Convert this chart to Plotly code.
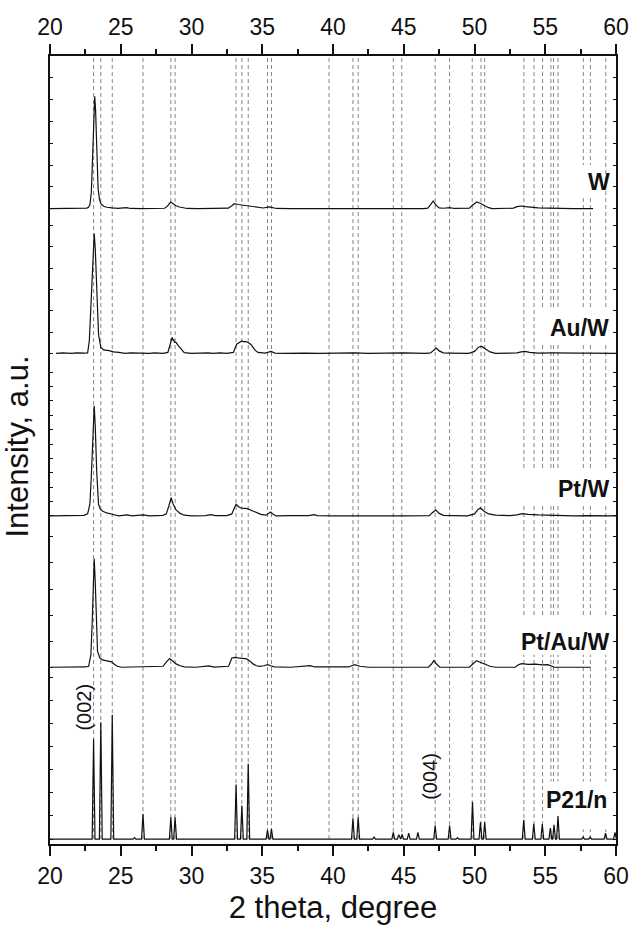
import plotly.graph_objects as go

# ---------------- measured patterns (background-subtracted intensity, a.u.) ----------------
w_tt = [20.0, 21.0, 22.0, 22.43, 22.60, 22.72, 22.82, 22.92, 23.02, 23.10, 23.16, 23.22, 23.30,
        23.40, 23.50, 23.60, 23.80, 24.00, 24.40, 24.80, 25.40, 25.70, 26.50, 27.50, 28.10, 28.30,
        28.52, 28.70, 28.90, 29.15, 29.70, 30.50, 31.40, 31.80, 32.60, 32.85, 33.03, 33.30, 33.70,
        34.12, 34.60, 35.05, 35.50, 35.80, 36.00, 37.00, 38.40, 39.00, 40.00, 41.60, 42.50, 44.00,
        44.80, 45.50, 46.40, 46.70, 46.90, 47.08, 47.25, 47.50, 47.80, 48.24, 48.60, 49.40, 49.63,
        49.90, 50.16, 50.40, 50.70, 51.00, 51.25, 52.00, 52.75, 53.00, 53.29, 53.60, 54.00, 54.50,
        55.20, 56.00, 57.00, 58.38]
w_int = [0, 0, 0.3, 0.4, 0.6, 1.5, 4, 16, 62, 105, 113.3, 100, 55,
         20, 9, 5, 2.5, 1.4, 0.7, 0.2, 1, 0.2, 0, 0, 0.4, 2.5,
         6.7, 5, 3, 1.7, 0.2, 0, 0.5, 0.2, 0.5, 3, 5, 4.2, 3.5,
         2.7, 1.5, 0.7, 1.7, 0.7, 0.2, 0, 0.4, 0, 0, 0.4, 0, 0,
         0.4, 0, 0, 0.5, 4, 7.7, 4, 0.7, 0.4, 1, 0.2, 0, 0.5,
         4, 6.7, 5.5, 3, 1, 0, 0, 0.5, 2, 2.7, 2, 1.2, 0.8,
         0.6, 0.2, 0, 0]

auw_tt = [20.42, 20.9, 21.5, 21.9, 22.4, 22.66, 22.78, 22.90, 23.00, 23.08, 23.125, 23.20, 23.30,
          23.43, 23.59, 23.80, 24.17, 24.50, 24.86, 25.30, 25.7, 26.0, 26.6, 27.0, 27.4, 28.00,
          28.33, 28.50, 28.63, 28.70, 28.75, 28.80, 28.91, 29.05, 29.26, 29.49, 30.0, 30.6, 31.2,
          31.5, 32.0, 32.5, 32.96, 33.19, 33.40, 33.55, 33.66, 33.80, 34.00, 34.20, 34.35, 34.50,
          34.70, 35.20, 35.62, 35.90, 36.5, 37.2, 38.0, 39.0, 40.2, 41.5, 42.5, 43.4, 44.0, 45.0,
          46.5, 46.9, 47.10, 47.31, 47.50, 47.80, 48.2, 49.0, 49.6, 50.00, 50.30, 50.51, 50.80,
          51.10, 51.48, 52.0, 52.5, 53.0, 53.3, 53.56, 53.9, 54.5, 55.5, 56.5, 57.2, 58.0, 59.0, 60.0]
auw_int = [0, 0.4, 0, 0.5, 0.3, 0.5, 13, 50, 90, 115, 121, 105, 60,
           19.3, 6, 3.5, 2.7, 1.5, 1, 0, 0.5, 0.3, 0.5, 0, 0.4, 0,
           1, 10, 16, 13, 14, 11, 11, 8, 4.3, 0.7, 0, 0.4, 0.5,
           0, 0.4, 0, 1, 9.3, 11, 12.5, 11.7, 12, 11, 9, 6, 3,
           1, 0.3, 2, 0.3, 0, 0.4, 0.3, 0, 0.4, 0.5, 0, 0.3, 0, 0.4,
           0, 0.5, 3, 5.3, 2.5, 0.5, 0.3, 0, 0, 2, 6.5, 7, 4,
           1.5, 0, 0.3, 0, 0.5, 1.5, 2, 1, 0.3, 0.5, 0, 0.3, 0.3, 0, 0]

ptw_tt = [20.0, 21.5, 22.4, 22.66, 22.82, 22.92, 23.02, 23.10, 23.125, 23.20, 23.30, 23.43, 23.55,
          23.70, 24.00, 24.40, 24.86, 25.44, 25.80, 26.60, 27.00, 28.00, 28.22, 28.40, 28.56, 28.70,
          28.91, 29.20, 29.49, 30.00, 31.00, 31.34, 31.70, 32.50, 32.85, 33.00, 33.15, 33.35, 33.54,
          33.75, 33.94, 34.25, 34.58, 34.90, 35.28, 35.45, 35.58, 35.75, 35.97, 37.00, 38.30, 38.63,
          38.90, 40.00, 41.50, 43.00, 45.00, 46.80, 47.00, 47.27, 47.50, 47.80, 48.50, 49.50, 50.00,
          50.25, 50.42, 50.70, 51.00, 51.48, 52.50, 53.00, 53.38, 53.80, 54.50, 55.19, 56.00, 57.00,
          58.00, 59.00, 60.00]
ptw_int = [0, 0, 0.5, 2, 12, 40, 80, 105, 111, 90, 45, 11.7, 7,
           5, 3, 1.7, 0, 1, 0, 1, 0, 0.5, 2, 10, 18.3, 12,
           6, 2.5, 0.7, 0, 0.3, 1.3, 0.3, 0.3, 2, 7, 11.7, 9, 7.7,
           7.5, 7.3, 5.5, 3.3, 1.5, 0.7, 2.5, 4, 2, 0, 0.3, 0.3, 1.3,
           0.3, 0, 0.3, 0, 0, 0.3, 3, 6, 2.5, 0.5, 0.3, 0, 2,
           6.5, 8, 4.5, 2, 0.7, 0.3, 1, 2.3, 1.5, 1, 0.7, 0.3, 0,
           0.3, 0, 0]

ptauw_tt = [20.05, 21.5, 22.5, 22.73, 22.89, 22.98, 23.06, 23.125, 23.20, 23.28, 23.36, 23.52, 23.70,
            23.94, 24.35, 24.55, 24.75, 25.09, 26.00, 27.00, 27.99, 28.20, 28.45, 28.65, 28.91, 29.20,
            29.49, 30.30, 31.23, 31.60, 32.62, 32.85, 33.08, 33.30, 33.54, 33.89, 34.10, 34.35, 34.60,
            34.81, 35.10, 35.39, 35.60, 35.85, 37.00, 38.40, 38.70, 40.00, 41.10, 41.53, 41.90, 42.50,
            44.00, 46.74, 46.95, 47.13, 47.30, 47.55, 49.00, 49.63, 49.90, 50.14, 50.40, 50.78, 51.10,
            51.48, 52.50, 52.87, 53.10, 53.33, 53.80, 54.30, 54.80, 55.19, 55.65, 56.50, 57.50, 58.19]
ptauw_int = [0, 0, 0.3, 1, 12.7, 45, 90, 109.4, 85, 40, 16, 9.4, 7.5,
             6.7, 5.4, 3, 1, 0, 0.3, 0, 1, 5, 8.7, 6.5, 3.4, 1.5,
             0.4, 0, 1.4, 0.2, 1, 9.4, 10, 9.5, 9, 8.4, 6.5, 3.4, 1.5,
             1, 1.5, 2.7, 1.5, 0.4, 0, 1.7, 0.3, 0, 0.3, 2.7, 1, 0,
             0, 0, 3, 6.7, 3.5, 0, 0, 0, 3.5, 6.7, 5, 2.7, 1,
             0, 0, 0, 2.5, 3.7, 3, 3.2, 2.5, 2.7, 0, 0, 0, 0]

# ---------------- reference pattern, monoclinic WO3 (P21/n) ----------------
ref_pos = [23.08, 23.59, 24.40, 25.97, 26.57, 28.54, 28.84, 33.15, 33.56, 34.01, 35.37, 35.65,
           41.41, 41.78, 42.90, 44.26, 44.65, 44.88, 45.35, 46.00, 47.22, 48.24, 48.80, 49.86,
           50.42, 50.72, 53.48, 54.19, 54.79, 55.36, 55.62, 55.90, 57.68, 58.17, 59.26, 59.93]
ref_int = [101, 117.7, 125.3, 1.5, 25.3, 22, 22, 55, 33.7, 76, 9.3, 10.3,
           21, 22, 2, 6.7, 4.3, 4.7, 6, 6.7, 13.7, 13.7, 1.2, 37.3,
           17, 17, 19.3, 15.3, 15, 11, 14.3, 23.3, 2, 2, 6, 6.7]

# dashed guides at the reflection positions
guide_pos = [23.08, 23.59, 24.40, 26.57, 28.54, 28.84, 33.15, 33.56, 34.01, 35.37, 35.65, 39.72,
             41.41, 41.78, 44.26, 44.86, 47.22, 48.24, 49.84, 50.46, 50.72, 53.49, 54.21, 54.81,
             55.40, 55.58, 55.90, 57.69, 58.19, 59.28]

tick_vals = [20, 25, 30, 35, 40, 45, 50, 55, 60]

# stick profile of the reference reflections
HALF_W = 0.1
ref_x, ref_y = [20.0], [0.0]
for p, h in zip(ref_pos, ref_int):
    ref_x += [p - HALF_W, p, p + HALF_W]
    ref_y += [0.0, h, 0.0]
ref_x.append(60.0)
ref_y.append(0.0)

FONT = "Liberation Sans, Arial, Helvetica, sans-serif"
INK = "#111111"

# panels from bottom to top: (axis id, x, y, domain, range, tick step)
panels = [
    ("y",  ref_x,    ref_y,     [0.000, 0.2151], [-5, 166],    23.33),
    ("y2", ptauw_tt, ptauw_int, [0.2151, 0.4038], [-7.3, 142.7], 26.3),
    ("y3", ptw_tt,   ptw_int,   [0.4038, 0.6113], [-10, 155],   14.5),
    ("y4", auw_tt,   auw_int,   [0.6113, 0.7962], [-9, 138],    21.5),
    ("y5", w_tt,     w_int,     [0.7962, 1.000], [-8, 154],     22.0),
]

fig = go.Figure()
layout_axes = {}
for ax_id, xs, ys, dom, rng, step in panels:
    fig.add_trace(go.Scatter(x=xs, y=ys, mode="lines", xaxis="x", yaxis=ax_id,
                             line=dict(color=INK, width=1.2), showlegend=False,
                             hoverinfo="skip"))
    key = "yaxis" if ax_id == "y" else "yaxis" + ax_id[1:]
    layout_axes[key] = dict(domain=dom, range=rng, tick0=0, dtick=step,
                            showticklabels=False, ticks="inside", ticklen=3,
                            tickwidth=1, tickcolor=INK, showline=True, linewidth=2,
                            linecolor=INK, mirror="ticks", showgrid=False,
                            zeroline=False, anchor="x")

# carrier for the top axis
fig.add_trace(go.Scatter(x=[20, 60], y=[0, 0], xaxis="x2", yaxis="y5", mode="lines",
                         line=dict(width=0), opacity=0, showlegend=False, hoverinfo="skip"))

x_common = dict(range=[20, 60], tickvals=tick_vals, ticks="outside", ticklen=10,
                tickwidth=1.5, tickcolor=INK, showline=True, linewidth=2, linecolor=INK,
                showgrid=False, zeroline=False,
                tickfont=dict(family=FONT, size=23, color=INK),
                minor=dict(dtick=2.5, tick0=20, ticks="outside", ticklen=5,
                           tickwidth=1.5, tickcolor=INK))

fig.update_layout(
    width=641, height=931,
    margin=dict(l=50, r=15, t=56, b=80),
    paper_bgcolor="white", plot_bgcolor="rgba(0,0,0,0)",
    xaxis=dict(x_common, anchor="y", side="bottom",
               title=dict(text="2 theta, degree", standoff=9,
                          font=dict(family=FONT, size=31, color=INK))),
    xaxis2=dict(x_common, overlaying="x", matches="x", anchor="y5", side="top"),
    **layout_axes,
)

# base of the dashed guides = zero line of the reference panel
ref_dom, ref_rng = panels[0][3], panels[0][4]
guide_base = ref_dom[0] + (0 - ref_rng[0]) / (ref_rng[1] - ref_rng[0]) * (ref_dom[1] - ref_dom[0])

shapes = []
for g in guide_pos:
    shapes.append(dict(type="line", xref="x", yref="paper", x0=g, x1=g, y0=guide_base, y1=1,
                       line=dict(color="#858585", width=1, dash="4px,3px"), layer="below"))

# white panels behind the sample names
label_boxes = [
    ("y5", 57.4, 59.2, 12, 44),
    ("y4", 54.6, 59.7, 9, 44),
    ("y3", 53.1, 59.7, 12, 47),
    ("y2", 52.5, 59.7, 12.7, 50.7),
    ("y", 54.9, 59.7, 10, 58),
]
for ax_id, xa, xb, ya, yb in label_boxes:
    shapes.append(dict(type="rect", xref="x", yref=ax_id, x0=xa, x1=xb, y0=ya, y1=yb,
                       fillcolor="white", line=dict(width=0), layer="below"))
fig.update_layout(shapes=shapes)

names = [("y5", "W", 59.15, 27.3), ("y4", "Au/W", 59.05, 26), ("y3", "Pt/W", 59.05, 27),
         ("y2", "Pt/Au/W", 59.05, 25.7), ("y", "P21/n", 58.95, 39)]
annotations = []
for ax_id, txt, xr, yc in names:
    annotations.append(dict(text="<b>" + txt + "</b>", x=xr, y=yc, xref="x", yref=ax_id,
                            xanchor="right", yanchor="middle", xshift=8, showarrow=False,
                            font=dict(family=FONT, size=23, color=INK)))

annotations += [
    dict(text="(002)", x=22.43, y=133, xref="x", yref="y", textangle=-90, showarrow=False,
         xanchor="center", yanchor="middle", font=dict(family=FONT, size=20, color=INK)),
    dict(text="(004)", x=46.8, y=63, xref="x", yref="y", textangle=-90, showarrow=False,
         xanchor="center", yanchor="middle", font=dict(family=FONT, size=20, color=INK)),
    dict(text="Intensity, a.u.", x=0, y=0.5044, xref="paper", yref="paper", xshift=-32,
         textangle=-90, showarrow=False, xanchor="center", yanchor="middle",
         font=dict(family=FONT, size=31, color=INK)),
]
fig.update_layout(annotations=annotations)

fig.write_html("out.html")
